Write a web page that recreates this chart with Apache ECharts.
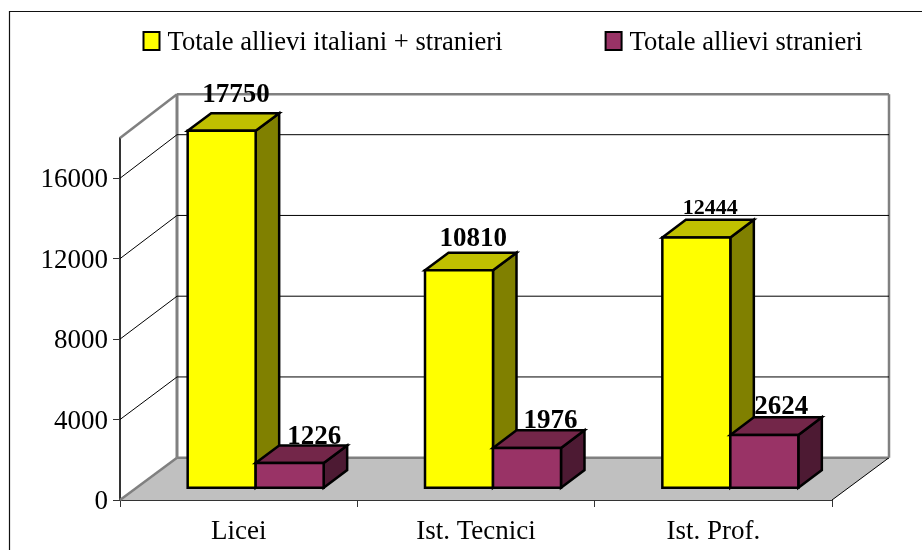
<!DOCTYPE html>
<html>
<head>
<meta charset="utf-8">
<style>html,body{margin:0;padding:0;background:#fff}#c{width:922px;height:550px}</style>
<script src="https://cdn.jsdelivr.net/npm/echarts@6/dist/echarts.min.js"></script>
</head>
<body>
<div id="c"></div>
<script>
const categories = ['Licei', 'Ist. Tecnici', 'Ist. Prof.'];
const seriesNames = ['Totale allievi italiani + stranieri', 'Totale allievi stranieri'];
const totalValues = [17750, 10810, 12444];
const foreignValues = [1226, 1976, 2624];
const yTicks = [0, 4000, 8000, 12000, 16000];
const yMax = 18000;

// label styling, per series then per category
const labelSizes = [[27, 27, 22], [27, 27, 27]];
const labelShift = [[[14.3, -36], [14.3, -31], [14, -29]], [[24.5, -26], [23.5, -27], [17, -27.5]]];

// pseudo-3D projection
const WALL_DX = 57, WALL_DY = 42.3, WALL_SCALE = 1.0038;
const BAR_DX = 23.5, BAR_DY = 17.6, BAR_SHIFT_X = 17, BAR_SHIFT_Y = 12.3, BAR_RATIO = 0.2865;
const FONT = '"Liberation Serif","Times New Roman",serif';
const FACES = [
  { front: '#FFFF00', top: '#C0C000', side: '#808000' },
  { front: '#993366', top: '#732649', side: '#4D1A33' }
];

function poly(points, fill, stroke, lw) {
  return { type: 'polygon', shape: { points }, style: { fill, stroke, lineWidth: lw, lineJoin: 'miter' } };
}
function line(a, b, stroke, lw) {
  return { type: 'line', shape: { x1: a[0], y1: a[1], x2: b[0], y2: b[1] }, style: { stroke, lineWidth: lw } };
}

function renderWall(params, api) {
  const v = api.value(1);
  const band = api.size([1, 0])[0];
  const p = api.coord([0, v]);
  const base = api.coord([0, 0])[1];
  const xl = p[0] - band / 2, xr = api.coord([2, v])[0] + band / 2, y = p[1];
  const by = base - WALL_DY - (base - y) * WALL_SCALE;
  const bl = [xl + WALL_DX, by], br = [xr + WALL_DX, by];
  const children = [];
  if (v === 0) {
    const topY = base - WALL_DY - (base - api.coord([0, yMax])[1]) * WALL_SCALE;
    const topF = api.coord([0, yMax])[1];
    children.push(poly([[xl, y], bl, br, [xr, y]], '#C0C0C0', 'none', 0));
    children.push(line([xl, y], bl, '#808080', 2.5));
    children.push(line(bl, br, '#808080', 2.5));
    children.push(line([xr, y], br, '#000', 1));
    children.push(line(bl, [bl[0], topY], '#808080', 3));
    children.push(line(br, [br[0], topY], '#808080', 2.5));
    children.push(line([bl[0], topY], [br[0], topY], '#808080', 2.5));
    children.push(line([xl, topF], [bl[0], topY], '#808080', 2.5));
  } else {
    children.push(line([xl, y], bl, '#000', 1));
    children.push(line(bl, br, '#000', 1));
  }
  return { type: 'group', children };
}

function renderBar(params, api) {
  const s = params.seriesIndex - 1;
  const i = api.value(0), v = api.value(1);
  const band = api.size([1, 0])[0], w = band * BAR_RATIO;
  const c = api.coord([i, 0]);
  const x0 = c[0] + BAR_SHIFT_X + (s - 1) * w, x1 = x0 + w;
  const y0 = c[1] - BAR_SHIFT_Y, y1 = api.coord([i, v])[1] - BAR_SHIFT_Y;
  const f = FACES[s], sh = labelShift[s][i];
  return {
    type: 'group',
    children: [
      { type: 'text', style: {
          text: String(v), x: (x0 + x1) / 2 + sh[0], y: y1 + sh[1],
          align: 'center', verticalAlign: 'middle',
          font: 'bold ' + labelSizes[s][i] + 'px ' + FONT, fill: '#000' } },
      poly([[x1, y0], [x1 + BAR_DX, y0 - BAR_DY], [x1 + BAR_DX, y1 - BAR_DY], [x1, y1]], f.side, '#000', 2.5),
      poly([[x0, y1], [x0 + BAR_DX, y1 - BAR_DY], [x1 + BAR_DX, y1 - BAR_DY], [x1, y1]], f.top, '#000', 2.5),
      poly([[x0, y0], [x1, y0], [x1, y1], [x0, y1]], f.front, '#000', 2.5)
    ]
  };
}

const barSeries = (name, values, s) => ({
  type: 'custom', name, xAxisIndex: 0, yAxisIndex: 0, clip: false, z: 3 + s, silent: true,
  renderItem: renderBar, encode: { x: 0, y: 1 },
  itemStyle: { color: FACES[s].front },
  data: values.map((v, i) => [i, v])
});

const chart = echarts.init(document.getElementById('c'), null, { renderer: 'canvas' });
chart.setOption({
  animation: false,
  backgroundColor: '#fff',
  graphic: [{
    type: 'polyline', silent: true,
    shape: { points: [[9.5, 560], [9.5, 11.5], [930, 11.5]] },
    style: { stroke: '#111', lineWidth: 1.2, fill: 'none' }
  }],
  legend: {
    data: seriesNames, left: 137.5, top: 25, itemWidth: 16, itemHeight: 18, itemGap: 102,
    selectedMode: false, icon: 'rect',
    itemStyle: { borderColor: '#000', borderWidth: 2 },
    formatter: name => '{a|' + name + '}',
    textStyle: { rich: { a: { fontFamily: FONT, fontSize: 26.6, color: '#000', padding: [5, 0, 0, 3] } } }
  },
  grid: { left: 120, width: 712, top: 138, height: 362, containLabel: false },
  xAxis: {
    type: 'category', data: categories, boundaryGap: true,
    axisLine: { show: true, lineStyle: { color: '#333', width: 2 } },
    axisTick: { show: true, length: 7, alignWithLabel: false, lineStyle: { color: '#333', width: 1 } },
    axisLabel: { fontFamily: FONT, fontSize: 27, color: '#000', margin: 18, interval: 0 },
    splitLine: { show: false }
  },
  yAxis: {
    type: 'value', min: 0, max: yMax, interval: 4000,
    axisLine: { show: true, lineStyle: { color: '#333', width: 2 } },
    axisTick: { show: true, length: 7, lineStyle: { color: '#333', width: 1 } },
    axisLabel: { fontFamily: FONT, fontSize: 27, color: '#000', margin: 12, showMaxLabel: false, verticalAlign: 'top', lineHeight: 4, formatter: v => String(v) },
    splitLine: { show: false }
  },
  series: [
    { type: 'custom', name: 'walls', clip: false, z: 1, silent: true, renderItem: renderWall,
      encode: { x: 0, y: 1 }, data: yTicks.map(v => [0, v]) },
    barSeries(seriesNames[0], totalValues, 0),
    barSeries(seriesNames[1], foreignValues, 1)
  ]
});
</script>
</body>
</html>
